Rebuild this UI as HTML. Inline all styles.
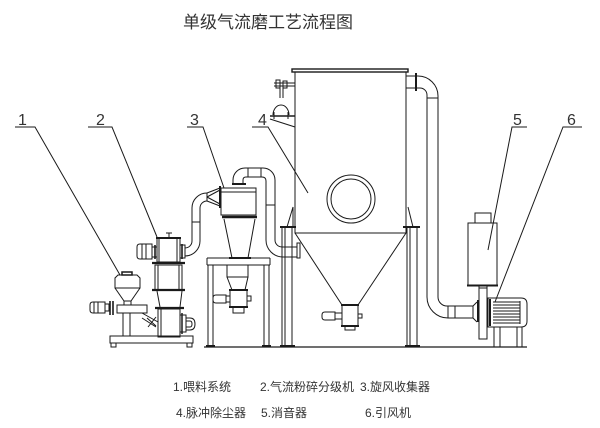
<!DOCTYPE html>
<html><head><meta charset="utf-8"><style>
html,body{margin:0;padding:0;background:#fff;}
svg{display:block;}
.t{font-family:"Liberation Sans","Noto Sans CJK SC",sans-serif;fill:#333;}
</style></head><body>
<svg width="600" height="428" viewBox="0 0 600 428" xmlns="http://www.w3.org/2000/svg">
<rect width="600" height="428" fill="#fff"/>
<text x="183" y="28" class="t" font-size="17" textLength="170">单级气流磨工艺流程图</text>

<g fill="none" stroke="#1a1a1a" stroke-width="1">
<!-- labels leaders -->
<path d="M15,127H35L120,275"/>
<path d="M88,127H112L157,237"/>
<path d="M187,127H203L224,188"/>
<path d="M252,127H268L308,193"/>
<path d="M527,127H512L488,250"/>
<path d="M582,127H563L495,302"/>

<!-- ground line -->
<path d="M204,347H527" stroke-width="1.3"/>

<!-- ===== Feeder (1) ===== -->
<rect x="122" y="272" width="10" height="3" stroke-width="1.5"/>
<path d="M115,288V278L118,275H137L140,278V288Z"/>
<path d="M115,288L124,301H131L140,288"/>
<rect x="124" y="301" width="7" height="4"/>
<rect x="117" y="305" width="30" height="8"/>
<path d="M105,302H93Q90,302 90,305V310Q90,313 93,313H105Z"/>
<path d="M94,302V313M98,302V313"/>
<rect x="105" y="304" width="4" height="7"/>
<path d="M110,301V315M113,301V315" stroke-width="1.6"/>
<rect x="123" y="313" width="7" height="23"/>
<path d="M142,313L158,322M142,318L156,327M147,318L156,326M156,317L148,327"/>
<!-- skid -->
<rect x="110" y="336" width="83" height="7"/>
<rect x="111" y="343" width="5" height="4"/>
<rect x="187" y="343" width="5" height="4"/>

<!-- ===== Jet mill (2) ===== -->
<path d="M156,238H181" stroke-width="2"/>
<path d="M169,238V233M166,233H172"/>
<rect x="157" y="238" width="23" height="24"/>
<path d="M159,238V262M177,238V262"/>
<path d="M152,244H140Q137,244 137,247V256Q137,259 140,259H152Z"/>
<path d="M142,244V259M146,244V259"/>
<rect x="152" y="247" width="5" height="10"/>
<path d="M155,245V259" stroke-width="1.6"/>
<rect x="180" y="245" width="5" height="13"/>
<path d="M182,244V259" stroke-width="1.6"/>
<path d="M152,263H185" stroke-width="2.2"/>
<rect x="155" y="265" width="27" height="25"/>
<path d="M158,265V290M179,265V290"/>
<path d="M152,290H185" stroke-width="2.2"/>
<path d="M157,291L160,307M182,291L180,307"/>
<path d="M155,308H184" stroke-width="2.2"/>
<rect x="158" y="309" width="22" height="28"/>
<path d="M161,309V337"/>
<rect x="180" y="315" width="6" height="17"/>
<path d="M182,313V334" stroke-width="1.5"/>
<path d="M186,318H190Q195,318 195,324Q195,330 190,330H186"/>
<path d="M186,321H190Q192,321 192,324Q192,327 190,327H186"/>

<!-- pipe mill -> cyclone -->
<path d="M185,256A15,15 0 0 0 200,241V208A7,7 0 0 1 207,201"/>
<path d="M185,248A7,7 0 0 0 192,241V208A15,15 0 0 1 207,193"/>
<path d="M192,222H200M207,193V201"/>
<path d="M207,193L220,188M207,201L220,206M207,197L220,190M207,197L220,204"/>
<path d="M220,186V208" stroke-width="2"/>

<!-- ===== Cyclone (3) ===== -->
<rect x="221" y="188" width="35" height="27"/>
<path d="M221,192H256"/>
<path d="M232,184H246" stroke-width="2"/>
<path d="M222,217H257" stroke-width="2.5"/>
<path d="M224,219L232,258M255,219L248,258"/>
<path d="M229,258H251" stroke-width="2"/>
<!-- arch pipe cyclone -> collector -->
<path d="M233,183V180A12,12 0 0 1 245,168H263A12,12 0 0 1 275,180V240A7,7 0 0 0 282,247H297"/>
<path d="M243,183V180Q243,177 246,177H262Q266,177 266,181V240A17,17 0 0 0 283,257H297"/>
<path d="M248,168V177M261,168V177M266,205H275"/>
<rect x="297" y="243" width="3" height="15"/>
<!-- stand -->
<path d="M207,258H270M207,265H270M207,258V265M270,258V265"/>
<path d="M208,265V345M213,265V345M264,265V345M269,265V345"/>
<path d="M206,346H215M262,346H271" stroke-width="2"/>
<path d="M227,265V277H248V265M227,277L232,290M248,277L245,290"/>
<rect x="230" y="290" width="17" height="17"/>
<path d="M229,290H248M229,307H248" stroke-width="2"/>
<rect x="233" y="307" width="11" height="6"/>
<path d="M226,295H216Q213,295 213,298V300Q213,303 216,303H226Z"/>
<rect x="226" y="296" width="4" height="6"/>
<path d="M247,296H251V301H247"/>

<!-- ===== Collector (4) ===== -->
<rect x="292" y="69" width="116" height="3" stroke-width="1.4"/>
<path d="M295,72V233H406V72"/>
<path d="M295,233L342,305M406,233L358,305"/>
<rect x="342" y="305" width="16" height="21"/>
<path d="M341,305H359M341,326H359" stroke-width="2"/>
<rect x="345" y="326" width="10" height="4"/>
<path d="M335,312H325Q322,312 322,315V317Q322,320 325,320H335Z"/>
<rect x="335" y="313" width="7" height="6"/>
<path d="M358,314H362V318H358"/>
<circle cx="351" cy="199" r="24"/>
<circle cx="351" cy="199" r="20"/>
<!-- legs -->
<path d="M282,227V345M285,227V345M292,227V345"/>
<path d="M407,227V345M410,227V345M417,227V345"/>
<path d="M280,227H296M403,227H420" stroke-width="2"/>
<path d="M287,227L293,207V227M413,227L408,207"/>
<path d="M280,346H295M405,346H420" stroke-width="2"/>
<!-- top-left pulse device -->
<path d="M274,83H295M274,86H295"/>
<rect x="276" y="80" width="4" height="8"/>
<rect x="283" y="81" width="4" height="7"/>
<path d="M280,86V98M283,86V98"/>
<path d="M273,115A8,10 0 0 1 289,115"/>
<path d="M270,116H295" stroke-width="1.6"/>
<path d="M274,112V119M288,112V119"/>
<path d="M270,119L295,127"/>
<!-- outlet pipe top right -->
<path d="M406,76H416M406,88H416"/>
<path d="M416,73V91" stroke-width="2"/>
<path d="M416,76H418A20,20 0 0 1 438,96V297A9,9 0 0 0 447,306H473"/>
<path d="M416,88H420A7,7 0 0 1 427,95V297A21,21 0 0 0 448,318H473"/>
<path d="M427,98H438M448,306V318M455,306V318"/>
<path d="M473,306L477,302M473,318L477,322M473,306V318"/>
<path d="M478,300V322" stroke-width="2"/>

<!-- ===== Silencer (5) ===== -->
<rect x="475" y="213" width="16" height="10"/>
<rect x="468" y="223" width="29" height="62"/>
<path d="M467,285.5H498" stroke-width="2"/>
<path d="M479,286V288M487,286V288"/>

<!-- ===== Fan (6) ===== -->
<rect x="479" y="288" width="8" height="51"/>
<path d="M488,298H521Q527,298 527,304V321Q527,327 521,327H488Z"/>
<path d="M490,299V326" stroke-width="2"/>
<path d="M493,302H520M493,305H520M493,308H520M493,311H520M493,314H520M493,317H520M493,320H520M493,323H520M520,301V324"/>
<path d="M494,327V347M500,327V347M517,327V347M522,327V347"/>
</g>

<g class="t" font-size="16">
<text x="18" y="125">1</text>
<text x="96" y="125">2</text>
<text x="190" y="125">3</text>
<text x="258" y="125">4</text>
<text x="513" y="125">5</text>
<text x="567" y="125">6</text>
</g>
<g class="t" font-size="12">
<text x="173" y="391">1.喂料系统</text>
<text x="260" y="391">2.气流粉碎分级机</text>
<text x="360" y="391">3.旋风收集器</text>
<text x="176" y="417">4.脉冲除尘器</text>
<text x="261" y="417">5.消音器</text>
<text x="365" y="417">6.引风机</text>
</g>
</svg>
</body></html>
